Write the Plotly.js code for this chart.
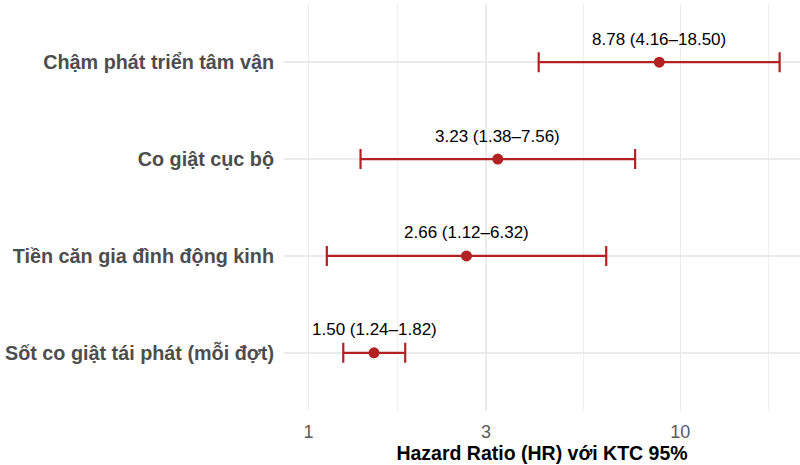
<!DOCTYPE html>
<html>
<head>
<meta charset="utf-8">
<script src="https://cdn.plot.ly/plotly-3.0.1.min.js"></script>
<style>html,body{margin:0;padding:0;background:#fff;}#chart{width:800px;height:465px;}</style>
</head>
<body>
<div id="chart"></div>
<script>
// Data (listed bottom to top)
const categories = ["Sốt co giật tái phát (mỗi đợt)", "Tiền căn gia đình động kinh", "Co giật cục bộ", "Chậm phát triển tâm vận"];
const hr = [1.50, 2.66, 3.23, 8.78];
const lo = [1.24, 1.12, 1.38, 4.16];
const hi = [1.82, 6.32, 7.56, 18.50];
const xTicks = [1, 3, 10];
const xTickText = ["1", "3", "10"];
const xMinorBreaks = [1.73, 5.48, 17.32];
const refValue = 1;

const red = "#B22222";
const font = "Liberation Sans, Arial, sans-serif";
const pos = categories.map((_, i) => i);

const trace = {
  type: "scatter",
  mode: "markers",
  x: hr,
  y: pos,
  marker: {color: red, size: 11},
  error_x: {
    type: "data", symmetric: false,
    array: hi.map((h, i) => h - hr[i]),
    arrayminus: lo.map((l, i) => hr[i] - l),
    color: red, thickness: 2.2, width: 10
  },
  hoverinfo: "skip",
  showlegend: false
};

const annotations = hr.map((h, i) => ({
  x: Math.log10(h), y: pos[i], xref: "x", yref: "y",
  text: h.toFixed(2) + " (" + lo[i].toFixed(2) + "–" + hi[i].toFixed(2) + ")",
  showarrow: false, yshift: 23,
  font: {family: font, size: 17, color: "#000"}
}));

const layout = {
  width: 800, height: 465,
  margin: {l: 284, r: 0, t: 4, b: 54},
  paper_bgcolor: "#fff", plot_bgcolor: "#fff",
  font: {family: font},
  xaxis: {
    type: "log",
    range: [-0.066, 1.322],
    tickmode: "array", tickvals: xTicks, ticktext: xTickText,
    tickfont: {family: font, size: 18, color: "#5A5A5A"},
    showgrid: true, gridcolor: "#EBEBEB", gridwidth: 1.4,
    minor: {tickmode: "array", tickvals: xMinorBreaks, showgrid: true, gridcolor: "#EBEBEB", gridwidth: 0.8, ticks: ""},
    zeroline: false, showline: false, ticks: "",
    ticklabelstandoff: 8,
    title: {text: "Hazard Ratio (HR) với KTC 95%", font: {family: font, size: 19.5, color: "#000", weight: "bold"}, standoff: 5}
  },
  yaxis: {
    range: [-0.6, 3.6],
    tickmode: "array", tickvals: pos, ticktext: categories,
    tickfont: {family: font, size: 19.8, color: "#4D4D4D", weight: "bold"},
    showgrid: true, gridcolor: "#EBEBEB", gridwidth: 1.6,
    zeroline: false, showline: false, ticks: "",
    ticklabelstandoff: 9
  },
  shapes: [{
    type: "line", xref: "x", yref: "paper",
    x0: Math.log10(refValue), x1: Math.log10(refValue), y0: 0, y1: 1,
    line: {color: "#000", width: 1.6, dash: "5px,3px"}
  }],
  annotations: annotations
};

Plotly.newPlot("chart", [trace], layout, {displayModeBar: false, staticPlot: true});
</script>
</body>
</html>
